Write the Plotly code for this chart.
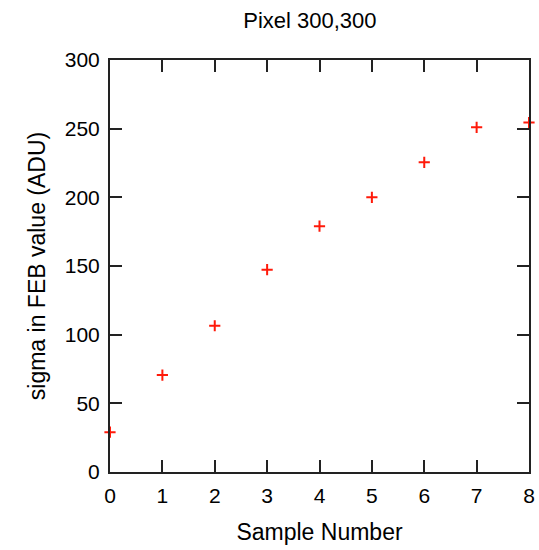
import plotly.graph_objects as go

sample_number = [0, 1, 2, 3, 4, 5, 6, 7, 8]
sigma_adu = [29, 70.6, 106.5, 147.3, 179, 200, 225.5, 251, 254.5]

fig = go.Figure()
fig.add_trace(go.Scatter(
    x=sample_number, y=sigma_adu, mode="markers",
    marker=dict(symbol="cross-thin", size=8, line=dict(color="#ff1a0a", width=2)),
    cliponaxis=False, showlegend=False,
))

font = "Liberation Sans, Arial, sans-serif"
axis_common = dict(
    showgrid=False, zeroline=False, showline=True, linecolor="#222222", linewidth=2,
    mirror="ticks", ticks="inside", ticklen=12, tickwidth=1.5, tickcolor="#222222",
    tickfont=dict(family=font, size=21, color="black"),
)
fig.update_layout(
    width=539, height=550, plot_bgcolor="white", paper_bgcolor="white",
    margin=dict(l=110, r=10, t=60, b=78, autoexpand=False),
    title=dict(text="Pixel 300,300", x=0.575, xanchor="center", y=0.963, yanchor="middle",
               font=dict(family=font, size=22, color="black")),
    xaxis=dict(range=[0, 8], dtick=1, ticklabelstandoff=4,
               title=dict(text="Sample Number", standoff=18,
                          font=dict(family=font, size=23, color="black")), **axis_common),
    yaxis=dict(range=[0, 300], dtick=50, ticklabelstandoff=4,
               title=dict(text="sigma in FEB value (ADU)", standoff=13,
                          font=dict(family=font, size=23, color="black")), **axis_common),
)
fig.write_html("out.html")
